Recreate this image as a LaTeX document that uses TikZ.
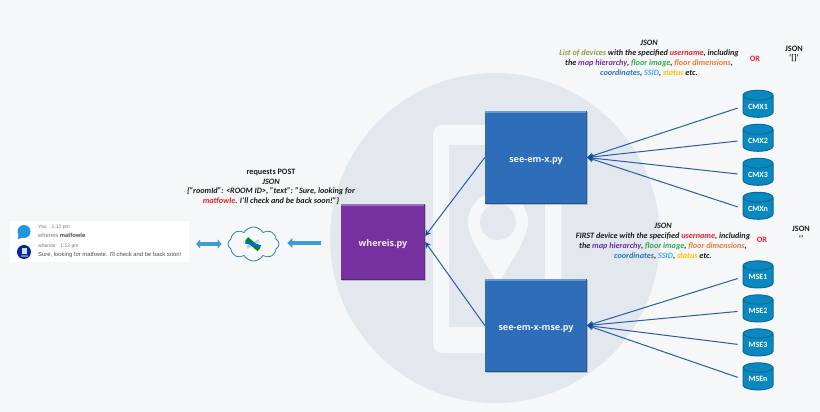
\documentclass[tikz,border=0pt]{standalone}
\usepackage{fontspec}
\setmainfont{Carlito}
\newfontfamily\boxfont{Open Sans}
\newfontfamily\chatfont{Liberation Sans}
\usetikzlibrary{shapes.geometric,shapes.symbols,arrows.meta,shadows,calc}
\definecolor{bgc}{HTML}{F6F7F8}
\definecolor{disc}{HTML}{E3E8EF}
\definecolor{pyblue}{HTML}{2E6DB8}
\definecolor{pypurple}{HTML}{7730A0}
\definecolor{cylc}{HTML}{0A88BF}
\definecolor{cyld}{HTML}{066C9C}
\definecolor{linkc}{HTML}{2A5CAA}
\definecolor{tipc}{HTML}{0B4DA8}
\definecolor{fatc}{HTML}{3E9CCF}
\definecolor{tolive}{HTML}{8AA13C}
\definecolor{tred}{HTML}{F01F2A}
\definecolor{tpurple}{HTML}{7030A0}
\definecolor{tgreen}{HTML}{2EAA50}
\definecolor{torange}{HTML}{ED7D31}
\definecolor{tblue}{HTML}{2E75B6}
\definecolor{tsky}{HTML}{3FA9F5}
\definecolor{tgold}{HTML}{FFC000}
\definecolor{tink}{HTML}{1C1C1C}
\definecolor{chatg}{HTML}{777777}
\tikzset{
  x=1pt,y=-1pt,
  pybox/.style={draw=none,fill=#1,inner sep=0pt,text height=9pt,text depth=0pt,font=\boxfont\bfseries\fontsize{9}{10}\selectfont,text=white!92!#1,
    drop shadow={shadow xshift=0.6pt,shadow yshift=-1pt,opacity=.45},
    path picture={
      \fill[#1!70!white] (path picture bounding box.north west) rectangle ([yshift=-2pt]path picture bounding box.north east);
      \fill[#1!75!black] (path picture bounding box.south west) rectangle ([yshift=1.5pt]path picture bounding box.south east);
      \fill[#1!85!black] (path picture bounding box.north east) rectangle ([xshift=-1.5pt]path picture bounding box.south east);
    }},
  store/.style={cylinder,shape border rotate=90,aspect=0.5,minimum width=30pt,minimum height=27pt,inner sep=0pt,
    draw=cyld,line width=1pt,fill=cylc,text=white,font=\bfseries\fontsize{8}{9}\selectfont},
  link/.style={draw=linkc,line width=1pt,-{Stealth[length=6pt,width=6pt,color=tipc]}},
  fat/.style={draw=fatc,line width=3.6pt},
  txt/.style={inner sep=0pt,align=center,text=tink,font=\bfseries\itshape\fontsize{8.2}{9.8}\selectfont},
  plain/.style={inner sep=0pt,text=tink,font=\bfseries\fontsize{8.2}{9.8}\selectfont},
  chat/.style={inner sep=0pt,anchor=west,text=chatg,font=\chatfont\fontsize{5.85}{6}\selectfont},
}
\begin{document}
\begin{tikzpicture}
\useasboundingbox (0,0) rectangle (820,412);
\fill[bgc] (0,0) rectangle (820,412);
% watermark
\fill[disc] (495,238) circle[radius=165pt];
\fill[bgc,rounded corners=9pt] (433,125) rectangle (561,353);
\fill[disc] (449,145) rectangle (545,327);
\fill[bgc] (498,285) .. controls (490,268) and (468,240) .. (468,222) arc[start angle=180,end angle=0,radius=30pt] .. controls (528,240) and (506,268) .. (498,285) -- cycle;
\fill[disc] (498,222) circle[radius=18pt];
% boxes
\node[pybox=pypurple,minimum width=84pt,minimum height=76pt] (whereis) at (383,242) {whereis.py};
\node[pybox=pyblue,minimum width=102pt,minimum height=93pt] (cmxpy) at (536,157.5) {see-em-x.py};
\node[pybox=pyblue,minimum width=102pt,minimum height=93pt] (msepy) at (536,325.5) {see-em-x-mse.py};
% cylinders
\node[store] (c1) at (758,106.5) {CMX1};
\node[store] (c2) at (758,140.5) {CMX2};
\node[store] (c3) at (758,174.5) {CMX3};
\node[store] (c4) at (758,208.5) {CMXn};
\node[store] (m1) at (758,277) {MSE1};
\node[store] (m2) at (758,311) {MSE2};
\node[store] (m3) at (758,345) {MSE3};
\node[store] (m4) at (758,379) {MSEn};
% links
\foreach \n in {c1,c2,c3,c4} \draw[link,shorten <=5pt] (\n.west) -- (cmxpy.east);
\foreach \n in {m1,m2,m3,m4} \draw[link,shorten <=5pt] (\n.west) -- (msepy.east);
\draw[link] (cmxpy.west) -- ([yshift=6pt]whereis.east);
\draw[link] (msepy.west) -- (whereis.east);
% chat panel
\node[fill=white,minimum width=179pt,minimum height=41pt,inner sep=0pt] (panel) at (99.5,241.5) {};
\fill[cyan!75!blue!90!white] (24,231.5) circle[radius=6.5pt];
\fill[cyan!75!blue!90!white] (18.5,234) -- (18,239) -- (23,237.5) -- cycle;
\fill[blue!55!black!85!cyan] (24,252) circle[radius=7pt];
\fill[white!85!blue] (21.5,247.5) rectangle (26.5,254);
\fill[gray] (20.5,254.5) rectangle (27.5,257);
\node[chat] (t1) at (38,227) {\fontsize{5}{6}\selectfont You\quad 1:12 pm};
\node[chat] (t2) at (38,235) {whereis \textbf{\color{black!70}matfowle}};
\node[chat] (t3) at (38,246) {\fontsize{5}{6}\selectfont whereis\quad 1:13 pm};
\node[chat,text=black!70] (t4) at (38,255) {Sure, looking for matfowle. I'll check and be back soon!};
% cloud
\node[cloud,cloud puffs=8,cloud puff arc=120,aspect=1.5,draw=fatc!80!black,line width=.8pt,fill=bgc,minimum width=51pt,minimum height=34pt,inner sep=0pt] (cloud) at (253.5,244) {};
\fill[white] (245,236) rectangle (261,253);
\fill[tsky!45!white,rotate around={45:(253,244)}] (251,235.5) rectangle (255,252.5);
\fill[gray!40,rotate around={-60:(253,244)}] (251.5,237) rectangle (254.5,251);
\fill[green!55!black,rotate around={50:(253,244)}] (250.5,236) rectangle (255,252);
\fill[blue!60!cyan,rotate around={-15:(253,244)}] (245,243) rectangle (261,245.5);
% fat arrows
\draw[fat,{Triangle[length=4pt,width=9pt]}-{Triangle[length=4pt,width=9pt]}] ([xshift=7pt,yshift=-2.5pt]panel.east) -- ([xshift=-6pt]cloud.west);
\draw[fat,-{Triangle[length=5pt,width=10pt]}] ([xshift=-20pt,yshift=-1pt]whereis.west) -- ([xshift=8pt,yshift=1pt]cloud.east);
% texts
\node[plain] (rq) at (271,172) {requests POST};
\node[txt] (rj) at (271,182) {JSON};
\node[txt] (rb) at (271,196) {\{"roomId": <ROOM ID>, "text": "Sure, looking for\\{\color{tred}matfowle}. I'll check and be back soon!"\}};
\node[txt] (a0) at (649,43) {JSON};
\node[txt] (a1) at (649,63) {{\color{tolive}List of devices} with the specified {\color{tred}username}, including\\the {\color{tpurple}map hierarchy}, {\color{tgreen}floor image}, {\color{torange}floor dimensions},\\{\color{tblue}coordinates}, {\color{tsky}SSID}, {\color{tgold}status} etc.};
\node[plain,text=tred] (a2) at (755,59) {OR};
\node[plain] (a3) at (794,48.5) {JSON};
\node[plain] (a4) at (794,58.5) {‘[]’};
\node[txt] (b0) at (663,226) {JSON};
\node[txt] (b1) at (663,246) {FIRST device with the specified {\color{tred}username}, including\\the {\color{tpurple}map hierarchy}, {\color{tgreen}floor image}, {\color{torange}floor dimensions},\\{\color{tblue}coordinates}, {\color{tsky}SSID}, {\color{tgold}status} etc.};
\node[plain,text=tred] (b2) at (762,240) {OR};
\node[plain] (b3) at (801,229) {JSON};
\node[plain] (b4) at (801,238.5) {‘’};
\end{tikzpicture}
\end{document}
